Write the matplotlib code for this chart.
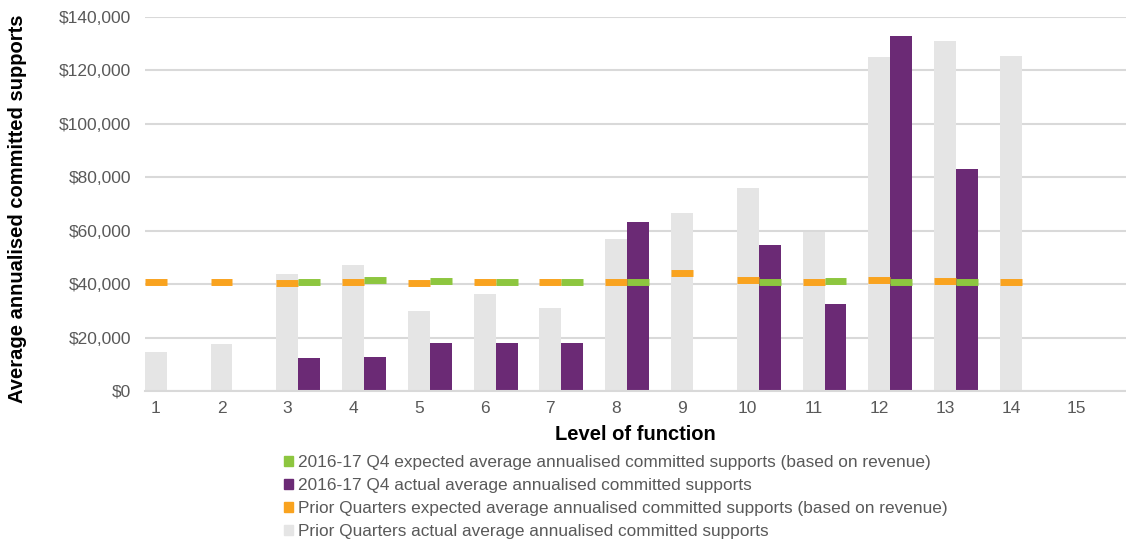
import matplotlib
matplotlib.use("Agg")
import matplotlib.pyplot as plt
import numpy as np
from matplotlib.patches import Patch
from matplotlib.ticker import FuncFormatter

plt.rcParams["font.family"] = ["Liberation Sans", "DejaVu Sans"]

levels = list(range(1, 16))
nan = np.nan

# values in dollars
prior_actual = [14700, 17500, 43900, 47200, 29900, 36400, 30900, 56800, 66500,
                75900, 59600, 125000, 131000, 125300, nan]
q4_actual = [nan, nan, 12500, 12900, 18100, 18100, 17800, 63200, nan,
             54600, 32500, 132800, 83000, nan, nan]
prior_expected = [40700, 40700, 40600, 40700, 40600, 40700, 40700, 40900, 44100,
                  41700, 40800, 41600, 41100, 40900, nan]
q4_expected = [nan, nan, 40700, 41400, 41100, 40700, 40700, 40700, nan,
               40700, 41100, 40900, 40700, nan, nan]

labels = [
    "2016-17 Q4 expected average annualised committed supports (based on revenue)",
    "2016-17 Q4 actual average annualised committed supports",
    "Prior Quarters expected average annualised committed supports (based on revenue)",
    "Prior Quarters actual average annualised committed supports",
]

GREY = "#e5e5e5"
PURPLE = "#6b2a75"
ORANGE = "#f9a31f"
GREEN = "#8dc63f"
TEXT = "#595959"

fig = plt.figure(figsize=(11.26, 5.4), dpi=100)
ax = fig.add_axes([145 / 1126, 149 / 540, 981 / 1126, 374 / 540])

x = np.array(levels, dtype=float)
w = 0.334

ax.bar(x, prior_actual, width=w, color=GREY, zorder=2)
ax.bar(x + w, q4_actual, width=w, color=PURPLE, zorder=2)
ax.hlines(prior_expected, x - w / 2, x + w / 2, color=ORANGE, linewidth=5, zorder=3)
ax.hlines(q4_expected, x + w / 2, x + 1.5 * w, color=GREEN, linewidth=5, zorder=3)

ax.set_xlim(0.837, 15.75)
ax.set_ylim(0, 140000)
ax.set_yticks(np.arange(0, 140001, 20000))
ax.yaxis.set_major_formatter(FuncFormatter(lambda v, p: f"${v:,.0f}"))
ax.set_xticks(x)
ax.set_xticklabels([str(l) for l in levels])
ax.tick_params(axis="both", length=0, labelsize=12.5, colors=TEXT)
ax.tick_params(axis="y", pad=10)
ax.tick_params(axis="x", pad=7)
ax.grid(axis="y", color="#d9d9d9", linewidth=1.5, zorder=0)
ax.set_axisbelow(True)
for s in ["top", "right", "left"]:
    ax.spines[s].set_visible(False)
ax.spines["bottom"].set_color("#d9d9d9")
ax.spines["bottom"].set_linewidth(1.5)

ax.set_xlabel("Level of function", fontsize=14.5, fontweight="bold", labelpad=7)
fig.text(18 / 1126, 1 - 209 / 540, "Average annualised committed supports",
         rotation=90, ha="center", va="center", fontsize=14.5, fontweight="bold")

handles = [Patch(color=GREEN), Patch(color=PURPLE), Patch(color=ORANGE), Patch(color=GREY)]
leg = fig.legend(handles, labels, loc="upper left", bbox_to_anchor=(284 / 1126, 1 - 455 / 540),
                 frameon=False, fontsize=12.4,
                 handlelength=0.5, handleheight=0.5,
                 handletextpad=0.3, labelspacing=0.46, borderpad=0, borderaxespad=0)
for t in leg.get_texts():
    t.set_color(TEXT)

fig.savefig("out.png", dpi=100)
